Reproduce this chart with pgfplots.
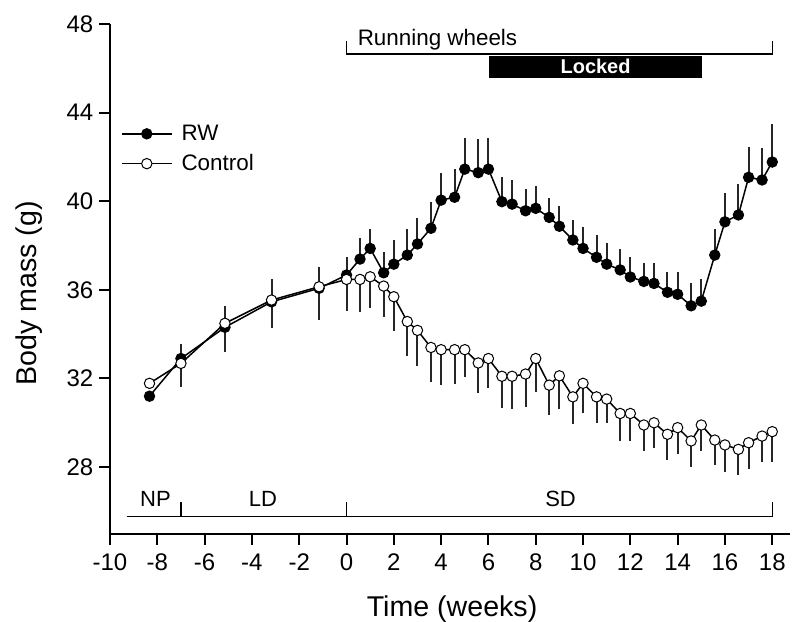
\documentclass[border=0pt]{standalone}
\usepackage{pgfplots}
\pgfplotsset{compat=1.18}
\usepackage{pgfplotstable}
\usepackage{fontspec}
\setmainfont{Liberation Sans}

\pgfplotstableread{
x y e
-8.33 31.20 0.25
-7.00 32.90 0.65
-5.14 34.31 0.97
-3.17 35.46 1.01
-1.16 36.07 0.97
0.00 36.67 0.83
0.57 37.39 0.96
1.00 37.87 0.86
1.57 36.77 0.95
2.00 37.16 1.09
2.57 37.57 1.19
3.00 38.07 1.19
3.57 38.78 1.20
4.00 40.05 1.24
4.57 40.18 1.27
5.00 41.45 1.40
5.57 41.29 1.50
6.00 41.45 1.40
6.57 39.98 1.10
7.00 39.87 1.09
7.57 39.57 1.00
8.00 39.68 1.01
8.57 39.27 0.89
9.00 38.87 0.90
9.57 38.25 0.90
10.00 37.87 0.98
10.57 37.47 1.00
11.00 37.16 0.96
11.57 36.90 0.93
12.00 36.58 0.92
12.57 36.38 0.84
13.00 36.29 0.90
13.57 35.89 0.93
14.00 35.80 1.02
14.57 35.28 1.04
15.00 35.49 0.98
15.57 37.57 1.18
16.00 39.07 1.29
16.57 39.38 1.42
17.00 41.08 1.38
17.57 40.96 1.43
18.00 41.77 1.70
}\rw

\pgfplotstableread{
x y e
-8.33 31.78 0.20
-7.00 32.68 1.05
-5.14 34.49 1.29
-3.17 35.54 1.28
-1.16 36.14 1.50
0.00 36.47 1.41
0.57 36.47 1.46
1.00 36.59 1.43
1.57 36.17 1.41
2.00 35.69 1.55
2.57 34.57 1.54
3.00 34.17 1.60
3.57 33.40 1.55
4.00 33.30 1.60
4.57 33.30 1.57
5.00 33.30 1.25
5.57 32.70 1.34
6.00 32.90 1.35
6.57 32.10 1.45
7.00 32.10 1.50
7.57 32.20 1.50
8.00 32.90 1.50
8.57 31.70 1.35
9.00 32.12 1.50
9.57 31.17 1.23
10.00 31.78 1.36
10.57 31.17 1.17
11.00 31.07 1.10
11.57 30.42 1.25
12.00 30.42 1.25
12.57 29.90 1.16
13.00 30.00 1.16
13.57 29.48 1.16
14.00 29.78 1.19
14.57 29.18 1.17
15.00 29.90 1.16
15.57 29.22 1.13
16.00 29.00 1.20
16.57 28.80 1.16
17.00 29.10 1.20
17.57 29.40 1.16
18.00 29.60 1.36
}\ctrl

\begin{document}
\begin{tikzpicture}
\begin{axis}[
  scale only axis,
  width=340pt, height=255pt,
  xmin=-10, xmax=18.75, ymin=24.98, ymax=48,
  axis x line*=bottom, axis y line*=left,
  axis line style={line width=1pt},
  xtick={-10,-8,-6,-4,-2,0,2,4,6,8,10,12,14,16,18},
  xticklabels={-10,-8,-6,-4,-2,0,2,4,6,8,10,12,14,16,18},
  ytick={28,32,36,40,44,48},
  tick align=outside, major tick length=5.3pt,
  tick style={black, line width=1pt},
  /pgf/number format/assume math mode=true,
  ticklabel style={font=\fontsize{12}{14}\selectfont},
  xticklabel style={yshift=-1pt},
  yticklabel style={xshift=0.5pt},
  xlabel={Time (weeks)}, ylabel={Body mass (g)},
  xlabel style={font=\fontsize{14.3}{16}\selectfont, at={(axis description cs:0.503,-0.147)}, anchor=center},
  ylabel style={font=\fontsize{14.3}{16}\selectfont, at={(axis description cs:-0.119,0.472)}, anchor=center},
  clip=false,
  legend style={at={(axis cs:-9.55,42.36)}, anchor=west, draw=none, fill=none,
    inner sep=0pt, row sep=3.5pt, font=\fontsize{11.2}{13}\selectfont,
    nodes={inner sep=1pt},
    /tikz/every odd column/.append style={column sep=3.5pt}},
  legend cell align=left,
  legend image code/.code={\draw[mark repeat=2,mark phase=2] plot coordinates {(0pt,0pt) (12.5pt,0pt) (25pt,0pt)};},
]
\addplot[black, line width=0.75pt, mark=*, mark size=2.6pt,
  mark options={fill=black, line width=0.5pt},
  error bars/.cd, y dir=plus, y explicit,
  error bar style={line width=1pt, color=black!85}, error mark=none]
  table[x=x, y=y, y error=e]{\rw};
\addlegendentry{RW}
\addplot[black, line width=0.75pt, mark=*, mark size=2.6pt,
  mark options={fill=white, line width=0.5pt},
  error bars/.cd, y dir=minus, y explicit,
  error bar style={line width=1pt, color=black!85}, error mark=none]
  table[x=x, y=y, y error=e]{\ctrl};
\addlegendentry{Control}

% top annotation
\draw[line width=0.6pt] (axis cs:0,47.23) -- (axis cs:0,46.65) -- (axis cs:18,46.65) -- (axis cs:18,47.23);
\node[anchor=base west, inner sep=0pt, font=\fontsize{11.2}{13}\selectfont] at (axis cs:0.46,47.02) {Running wheels};
\fill[black] (axis cs:6.02,46.56) rectangle (axis cs:15.04,45.58);
\node[text=white, font=\bfseries\fontsize{10}{12}\selectfont, inner sep=0pt] at (axis cs:10.53,46.1) {Locked};

% bottom annotation
\draw[line width=0.6pt] (axis cs:-9.3,25.76) -- (axis cs:18,25.76);
\draw[line width=0.6pt] (axis cs:-7,25.76) -- (axis cs:-7,26.43);
\draw[line width=0.6pt] (axis cs:0,25.76) -- (axis cs:0,26.43);
\draw[line width=0.6pt] (axis cs:18,25.76) -- (axis cs:18,26.43);
\node[font=\fontsize{11}{12}\selectfont, inner sep=0pt] at (axis cs:-8.08,26.55) {NP};
\node[font=\fontsize{11}{12}\selectfont, inner sep=0pt] at (axis cs:-3.53,26.55) {LD};
\node[font=\fontsize{11}{12}\selectfont, inner sep=0pt] at (axis cs:9.05,26.55) {SD};
\end{axis}
\pgfresetboundingbox
\path (-55pt,-44pt) rectangle (342pt,267pt);
\end{tikzpicture}
\end{document}
